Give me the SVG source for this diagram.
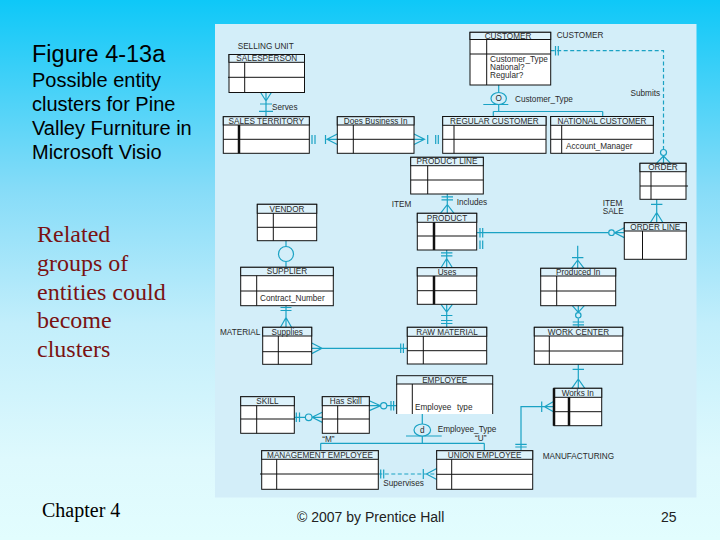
<svg xmlns="http://www.w3.org/2000/svg" width="720" height="540" viewBox="0 0 720 540">
<defs>
<linearGradient id="bg" x1="0" y1="0" x2="0" y2="1">
<stop offset="0" stop-color="#0ec8f8"/>
<stop offset="0.35" stop-color="#86dcf8"/>
<stop offset="0.6" stop-color="#c2eefb"/>
<stop offset="0.85" stop-color="#def9fd"/>
<stop offset="1" stop-color="#e2fdfe"/>
</linearGradient>
<style>
.b{fill:#fff;stroke:#111;stroke-width:1}
.h{fill:#ddf2fb;stroke:#111;stroke-width:1}
.l{stroke:#111;stroke-width:1;fill:none}
.k{stroke:#111;stroke-width:2.5;fill:none}
.t{font-family:"Liberation Sans",Arial,sans-serif;font-size:8.2px;fill:#2a2a2a}
.m{text-anchor:middle}
.c{stroke:#1aa2c4;stroke-width:1.2;fill:none}
.d{stroke-dasharray:4 2.5}
.cf{stroke:#1aa2c4;stroke-width:1.2;fill:#d3eef9}
.big{font-family:"Liberation Sans",Arial,sans-serif;fill:#000}
.red{font-family:"Liberation Serif","Times New Roman",serif;font-size:24px;fill:#7a1212}
</style>
</defs>
<rect x="0" y="0" width="720" height="540" fill="url(#bg)"/>
<text class="big" x="32" y="62" font-size="23.5">Figure 4-13a</text>
<text class="big" font-size="20"><tspan x="32" y="87">Possible entity</tspan><tspan x="32" y="111">clusters for Pine</tspan><tspan x="32" y="135">Valley Furniture in</tspan><tspan x="32" y="159">Microsoft Visio</tspan></text>
<text class="red"><tspan x="37" y="242">Related</tspan><tspan x="37" y="271">groups of</tspan><tspan x="37" y="300">entities could</tspan><tspan x="37" y="328">become</tspan><tspan x="37" y="357">clusters</tspan></text>
<text x="42" y="517" font-family="'Liberation Serif','Times New Roman',serif" font-size="20" fill="#000">Chapter 4</text>
<text x="297" y="522" font-family="'Liberation Sans',Arial,sans-serif" font-size="14" fill="#222">© 2007 by Prentice Hall</text>
<text x="661" y="522" font-family="'Liberation Sans',Arial,sans-serif" font-size="14" fill="#222">25</text>

<rect x="215" y="24" width="481.5" height="473.5" fill="#d3eef9"/>

<g id="labels" class="t">
<text x="237.7" y="49">SELLING UNIT</text>
<text x="272" y="109.5">Serves</text>
<text x="556.7" y="38">CUSTOMER</text>
<text x="515" y="102">Customer_Type</text>
<text x="630.5" y="96">Submits</text>
<text x="456.7" y="205">Includes</text>
<text x="391.7" y="207">ITEM</text>
<text x="602.7" y="205.5">ITEM</text>
<text x="602.7" y="213.5">SALE</text>
<text x="220" y="335">MATERIAL</text>
<text x="437.7" y="431.5">Employee_Type</text>
<text x="322.3" y="442">“M”</text>
<text x="475" y="441">“U”</text>
<text x="383.3" y="486">Supervises</text>
<text x="542.7" y="458.5">MANUFACTURING</text>
</g>

<g id="connectors">
<path class="c" d="M266 92.3V116.7M260.5 92.3L266 101L271.5 92.3M266 92.3V101M260 104H272M259 111.3H273"/>
<path class="c" d="M312 135V144M315 135V144M325.5 135V144M337.3 134L327 139.3L337.3 144.5M327 139.3H337.3"/>
<path class="c" d="M414 134L424.5 139.3L414 144.5M414 139.3H424.5M427.7 135V144M435.7 135V144M438.3 135V144"/>
<path class="c" d="M498.7 85V92.5M483.3 104.5H508.3M498.7 104.5V111.5M493.3 111.5H602.7M493.3 111.5V116.5M602.7 111.5V116.5"/>
<ellipse class="cf" cx="498.7" cy="98.5" rx="7.7" ry="6"/>
<text class="t m" x="498.7" y="101.3" font-size="7.5">O</text>
<path class="c d" d="M550.7 50.7H663.5V149"/>
<path class="c" d="M555.5 46V55.5M558.3 46V55.5M663.5 156L656.5 163.3M663.5 156V163.3M663.5 156L670.5 163.3"/>
<circle class="cf" cx="663.5" cy="152.5" r="3"/>
<path class="c" d="M656.7 199.3V222.7M651 204.3H662.4M656.7 212.5L650.3 222.7M656.7 212.5L663 222.7"/>
<path class="c" d="M476.7 232.7H608.5M480 228V237.5M482.7 228V237.5M614.5 232.7L624.3 227.8M614.5 232.7H624.3M614.5 232.7L624.3 237.6M480 240.5V249M482.7 240.5V249"/>
<circle class="cf" cx="611.5" cy="232.7" r="2.8"/>
<path class="c" d="M447.3 194V213.3M441.5 196.8H453M441.5 199.8H453M447.3 204.5L440.5 213.3M447.3 204.5L454 213.3"/>
<path class="c" d="M446.7 250V267.7M441 252.8H452.4M441 255.8H452.4M446.7 258.5L441 267.7M446.7 258.5L452.4 267.7"/>
<path class="c" d="M446.7 304.3V327.3M441 304.3L446.7 312L452.4 304.3M441 315.5H452.4M441 320.5H452.4M441 323.5H452.4"/>
<path class="c" d="M577.7 245.7V268.3M572 257.7H583.4M577.7 260L571.5 268.3M577.7 260L584 268.3"/>
<path class="c" d="M578.3 305.7V312.3M578.3 318.3V327.3M572.3 305.7L578.3 312.3L584.3 305.7M572.7 322H584M572.7 324.8H584"/>
<circle class="cf" cx="578.3" cy="315.3" r="2.7"/>
<path class="c" d="M578.3 364.3V388.3M572.6 369.3H584M578.3 379L571.8 388.3M578.3 379L584.8 388.3"/>
<path class="c" d="M521 450.7V406.7H554M515.3 444.3H526.7M515.3 447H526.7M541.7 401.5V412M544.5 406.7L554 401.3M544.5 406.7L554 412"/>
<path class="c" d="M286 305.7V327.3M280.5 307.5H291.5M280.5 310.5H291.5M286 317.5L280.5 327.3M286 317.5L291.5 327.3"/>
<path class="c" d="M311.7 348.3H407.3M311.7 343L322 348.3L311.7 353.6M400.7 343.5V353M403.4 343.5V353"/>
<path class="c" d="M286 240.7V267.3"/>
<circle class="cf" cx="286" cy="254" r="7.5"/>
<path class="c" d="M294.3 417.3H305.3M296.3 412.5V422M299.5 412.5V422M312 417.3L322.3 412.2M312 417.3H322.3M312 417.3L322.3 422.4"/>
<circle class="cf" cx="308.7" cy="417.3" r="3.3"/>
<path class="c" d="M369.3 405.7H380.5M386.8 405.7H396.7M369.3 400.8L380.5 405.7L369.3 410.6M391 401V410.5M393.6 401V410.5"/>
<circle class="cf" cx="383.7" cy="405.7" r="3.1"/>
<path class="c" d="M422.3 414V424M406 436H441.7M422.3 436V443.3M320.7 443.3H484.3M320.7 443.3V450.7M484.3 443.3V450.7"/>
<ellipse class="cf" cx="422.3" cy="430" rx="8.3" ry="6"/>
<text class="t m" x="422.3" y="432.8" font-size="7.5">d</text>
<path class="c d" d="M378.3 474H436.7"/>
<path class="c" d="M380.7 469.5V478.5M383.7 469.5V478.5M423.3 469V479M426.5 474L436.7 468.5M426.5 474L436.7 479.5"/>
</g>

<g id="salesperson"><rect class="b" x="229" y="54.5" width="75.5" height="38"/><rect class="h" x="229" y="54.5" width="75.5" height="7.8"/><path class="l" d="M244.7 62.3V92.5M228 77.3H304.5"/><text class="t m" x="266.7" y="61">SALESPERSON</text></g>
<g id="sales-territory"><rect class="b" x="223.3" y="116.7" width="86" height="36.6"/><rect class="h" x="223.3" y="116.7" width="86" height="8.3"/><path class="k" d="M239 125V153.3"/><path class="l" d="M223.3 139.3H309.3"/><text class="t m" x="266.3" y="123.5">SALES TERRITORY</text></g>
<g id="does-business-in"><rect class="b" x="337.3" y="116.7" width="76.7" height="36.6"/><rect class="h" x="337.3" y="116.7" width="76.7" height="8.3"/><path class="l" d="M353.3 125V153.3M337.3 139.3H414"/><text class="t m" x="375.6" y="123.5">Does Business In</text></g>
<g id="regular-customer"><rect class="b" x="442.7" y="116.5" width="103.3" height="36.8"/><rect class="h" x="442.7" y="116.5" width="103.3" height="8.8"/><path class="l" d="M454 125.3V153.3M442.7 139.3H546"/><text class="t m" x="494.3" y="123.7">REGULAR CUSTOMER</text></g>
<g id="national-customer"><rect class="b" x="550.7" y="116.5" width="102.6" height="36.8"/><rect class="h" x="550.7" y="116.5" width="102.6" height="8.8"/><path class="l" d="M561.7 125.3V153.3M550.7 139.3H653.3"/><text class="t m" x="602" y="123.7">NATIONAL CUSTOMER</text><text class="t" x="566" y="148.5">Account_Manager</text></g>
<g id="customer"><rect class="b" x="470" y="32.3" width="80.7" height="52.7"/><rect class="h" x="470" y="32.3" width="80.7" height="7.2"/><path class="l" d="M486.7 39.5V85M470 54H550.7"/><text class="t m" x="508" y="38.5">CUSTOMER</text><text class="t" x="490" y="62">Customer_Type</text><text class="t" x="490" y="70">National?</text><text class="t" x="490" y="78">Regular?</text></g>
<g id="order"><rect class="b" x="640" y="163.3" width="46" height="36"/><rect class="h" x="640" y="163.3" width="46" height="8.4"/><path class="l" d="M651 171.7V199.3M640 186H688"/><text class="t m" x="663" y="170.3">ORDER</text></g>
<g id="order-line"><rect class="b" x="624.3" y="222.7" width="62" height="36.6"/><rect class="h" x="624.3" y="222.7" width="62" height="8.3"/><path class="l" d="M642.5 231V259.3"/><text class="t m" x="655.3" y="229.6">ORDER LINE</text></g>
<g id="product-line"><rect class="b" x="410.7" y="157.3" width="72.6" height="36.7"/><rect class="h" x="410.7" y="157.3" width="72.6" height="8.4"/><path class="l" d="M427.7 165.7V194M410.7 180H483.3"/><text class="t m" x="447" y="164.3">PRODUCT LINE</text></g>
<g id="product"><rect class="b" x="417.3" y="213.3" width="59.4" height="36.7"/><rect class="h" x="417.3" y="213.3" width="59.4" height="9"/><path class="k" d="M434 222.3V250"/><path class="l" d="M417.3 236H476.7"/><text class="t m" x="447" y="220.8">PRODUCT</text></g>
<g id="uses"><rect class="b" x="417.3" y="267.7" width="59.4" height="36.6"/><rect class="h" x="417.3" y="267.7" width="59.4" height="8.3"/><path class="k" d="M434 276V304.3"/><path class="l" d="M417.3 290.7H476.7"/><text class="t m" x="447" y="274.6">Uses</text></g>
<g id="raw-material"><rect class="b" x="407.3" y="327.3" width="79.4" height="36.7"/><rect class="h" x="407.3" y="327.3" width="79.4" height="9"/><path class="l" d="M423.3 336.3V364M407.3 350.7H486.7"/><text class="t m" x="447" y="334.7">RAW MATERIAL</text></g>
<g id="produced-in"><rect class="b" x="540.7" y="268.3" width="75" height="37.4"/><rect class="h" x="540.7" y="268.3" width="75" height="7.7"/><path class="l" d="M556.7 276V305.7M540.7 291H615.7"/><text class="t m" x="578.2" y="274.8">Produced In</text></g>
<g id="work-center"><rect class="b" x="534.3" y="327.3" width="88.4" height="37"/><rect class="h" x="534.3" y="327.3" width="88.4" height="8.7"/><path class="l" d="M549.3 336V364.3M534.3 351H622.7"/><text class="t m" x="578.5" y="334.6">WORK CENTER</text></g>
<g id="works-in"><rect class="b" x="554" y="388.3" width="47.7" height="37.4"/><rect class="h" x="554" y="388.3" width="47.7" height="9"/><path class="k" d="M569 397.3V425.7M554 388.3V425.7"/><path class="l" d="M554 411.7H601.7"/><text class="t m" x="577.8" y="395.7">Works In</text></g>
<g id="employee"><rect x="396.7" y="375.7" width="96" height="38.3" fill="#fff"/><rect class="h" x="396.7" y="375.7" width="96" height="8.3"/><path class="l" d="M396.7 384V414M492.7 384V414M412.3 384V414"/><text class="t m" x="444.7" y="382.6">EMPLOYEE</text><text class="t" y="410"><tspan x="415">Employee</tspan><tspan x="457">type</tspan></text></g>
<g id="skill"><rect class="b" x="240.7" y="396.7" width="53.6" height="36.6"/><rect class="h" x="240.7" y="396.7" width="53.6" height="9"/><path class="l" d="M256.7 405.7V433.3M240.7 419H294.3"/><text class="t m" x="267.5" y="404.1">SKILL</text></g>
<g id="has-skill"><rect class="b" x="322.3" y="396.7" width="47" height="36.6"/><rect class="h" x="322.3" y="396.7" width="47" height="9"/><path class="l" d="M337.7 405.7V433.3M322.3 419H369.3"/><text class="t m" x="345.8" y="404.1">Has Skill</text></g>
<g id="vendor"><rect class="b" x="257.3" y="204.3" width="59.4" height="36.4"/><rect class="h" x="257.3" y="204.3" width="59.4" height="9"/><path class="l" d="M273.3 213.3V240.7M257.3 227.3H316.7"/><text class="t m" x="287" y="211.7">VENDOR</text></g>
<g id="supplier"><rect class="b" x="240.7" y="267.3" width="92.6" height="38.4"/><rect class="h" x="240.7" y="267.3" width="92.6" height="8.4"/><path class="l" d="M256.7 275.7V305.7M240.7 291H333.3"/><text class="t m" x="287" y="274.3">SUPPLIER</text><text class="t" x="260" y="301">Contract_Number</text></g>
<g id="supplies"><rect class="b" x="262.7" y="327.3" width="49" height="37"/><rect class="h" x="262.7" y="327.3" width="49" height="8.7"/><path class="l" d="M278.3 336V364.3M262.7 351.7H311.7"/><text class="t m" x="287.2" y="334.6">Supplies</text></g>
<g id="management-employee"><rect class="b" x="261.7" y="450.7" width="116.6" height="38.6"/><rect class="h" x="261.7" y="450.7" width="116.6" height="8.6"/><path class="l" d="M276.7 459.3V489.3M260 474H378.3"/><text class="t m" x="320" y="457.9">MANAGEMENT EMPLOYEE</text></g>
<g id="union-employee"><rect class="b" x="436.7" y="450.7" width="96" height="38.6"/><rect class="h" x="436.7" y="450.7" width="96" height="8.6"/><path class="l" d="M451.7 459.3V489.3M436.7 474.3H532.7"/><text class="t m" x="484.7" y="457.9">UNION EMPLOYEE</text></g>
</svg>
